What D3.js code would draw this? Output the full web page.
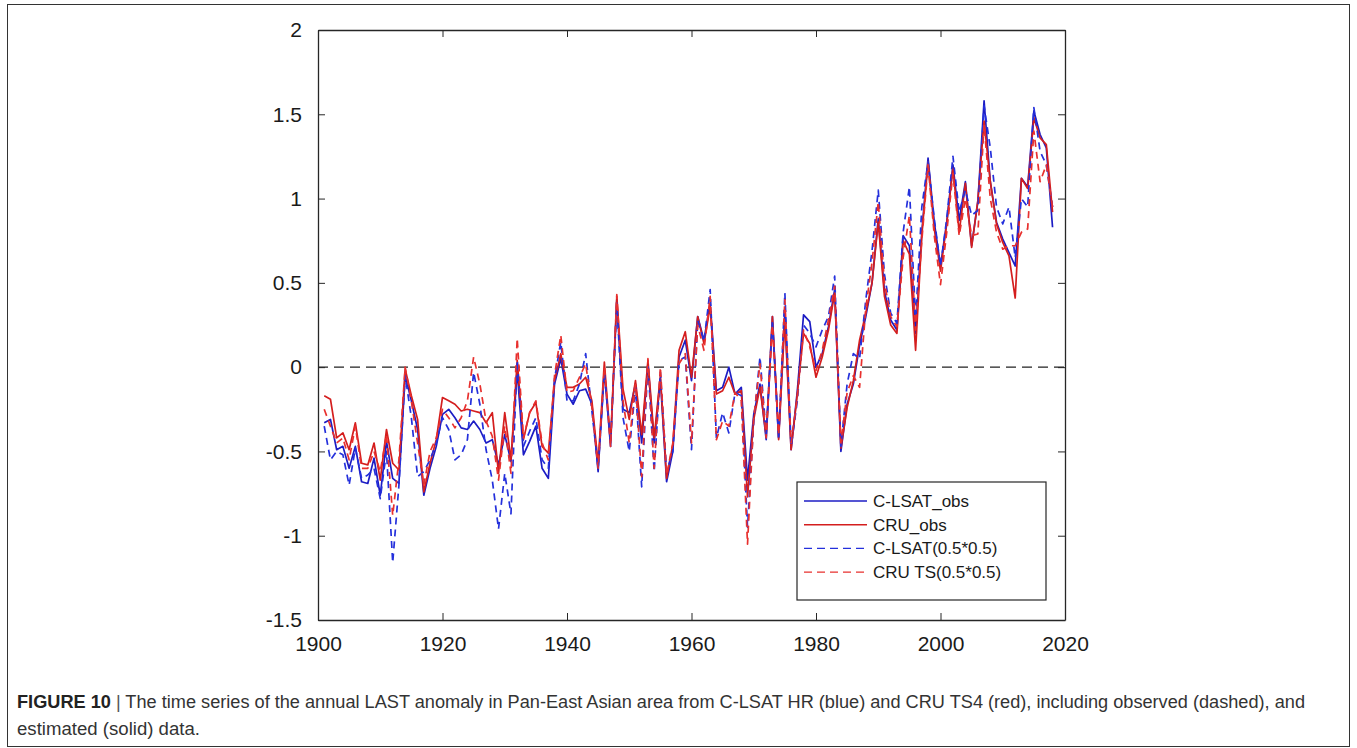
<!DOCTYPE html>
<html>
<head>
<meta charset="utf-8">
<script src="https://cdn.jsdelivr.net/npm/d3@7"></script>
<style>
  body { margin: 0; background: #fff; }
  svg { display: block; font-family: "Liberation Sans", Arial, Helvetica, sans-serif; }
</style>
</head>
<body>
<svg id="chart" width="1357" height="748"></svg>
<script>

var anios = d3.range(1901, 2019);

// C-LSAT_obs (azul continua)
var clsatObs = [
  -0.33, -0.31, -0.49, -0.47, -0.60, -0.47, -0.68, -0.69, -0.54, -0.76,
  -0.44, -0.66, -0.69, -0.05, -0.20, -0.37, -0.76, -0.60, -0.47, -0.28,
  -0.25, -0.30, -0.36, -0.37, -0.32, -0.37, -0.45, -0.43, -0.58, -0.40,
  -0.56, -0.02, -0.52, -0.44, -0.35, -0.60, -0.66, -0.10, 0.05, -0.16,
  -0.22, -0.14, -0.13, -0.22, -0.62, -0.02, -0.47, 0.40, -0.25, -0.27,
  -0.10, -0.45, 0.02, -0.45, -0.07, -0.68, -0.50, 0.06, 0.16, -0.08,
  0.30, 0.16, 0.38, -0.14, -0.12, 0.00, -0.16, -0.12, -0.67, -0.28,
  -0.10, -0.43, 0.30, -0.42, 0.33, -0.49, -0.14, 0.31, 0.27, 0.00,
  0.08, 0.24, 0.46, -0.50, -0.22, -0.10, 0.13, 0.30, 0.50, 0.88,
  0.45, 0.28, 0.22, 0.78, 0.72, 0.20, 0.80, 1.24, 0.86, 0.60,
  0.86, 1.20, 0.87, 1.10, 0.72, 0.98, 1.58, 1.10, 0.86, 0.76,
  0.68, 0.60, 1.12, 1.07, 1.52, 1.38, 1.30, 0.83
];

// CRU_obs (roja continua)
var cruObs = [
  -0.17, -0.19, -0.42, -0.39, -0.49, -0.33, -0.57, -0.58, -0.45, -0.67,
  -0.37, -0.57, -0.61, -0.01, -0.17, -0.31, -0.74, -0.57, -0.43, -0.18,
  -0.20, -0.22, -0.26, -0.25, -0.26, -0.27, -0.33, -0.27, -0.63, -0.27,
  -0.55, 0.04, -0.43, -0.27, -0.21, -0.47, -0.51, -0.08, 0.08, -0.12,
  -0.12, -0.10, -0.06, -0.20, -0.57, 0.03, -0.45, 0.42, -0.13, -0.31,
  -0.08, -0.40, 0.04, -0.42, -0.05, -0.66, -0.46, 0.10, 0.21, -0.06,
  0.30, 0.14, 0.36, -0.16, -0.14, -0.06, -0.16, -0.14, -0.77, -0.31,
  -0.12, -0.41, 0.30, -0.43, 0.28, -0.49, -0.16, 0.20, 0.14, -0.06,
  0.06, 0.22, 0.44, -0.48, -0.24, -0.08, 0.16, 0.32, 0.50, 0.86,
  0.42, 0.25, 0.20, 0.75, 0.67, 0.10, 0.78, 1.22, 0.82, 0.57,
  0.85, 1.18, 0.80, 1.09, 0.71, 0.99, 1.46, 1.10, 0.85, 0.74,
  0.66, 0.41, 1.12, 1.06, 1.48, 1.36, 1.32, 0.92
];

// C-LSAT(0.5*0.5) (azul discontinua)
var clsatMalla = [
  -0.35, -0.55, -0.50, -0.52, -0.70, -0.48, -0.66, -0.64, -0.60, -0.78,
  -0.50, -1.16, -0.70, -0.05, -0.30, -0.65, -0.62, -0.55, -0.45, -0.30,
  -0.37, -0.55, -0.52, -0.43, -0.03, -0.22, -0.49, -0.67, -0.96, -0.63,
  -0.87, 0.04, -0.47, -0.38, -0.30, -0.55, -0.60, -0.07, 0.15, -0.20,
  -0.20, -0.10, 0.08, -0.26, -0.60, -0.03, -0.45, 0.38, -0.30, -0.50,
  -0.12, -0.71, 0.02, -0.62, -0.03, -0.62, -0.50, 0.04, 0.06, -0.49,
  0.28, 0.15, 0.46, -0.42, -0.27, -0.39, -0.15, -0.17, -0.95, -0.32,
  0.06, -0.40, 0.28, -0.43, 0.44, -0.47, -0.20, 0.25, 0.20, 0.12,
  0.22, 0.30, 0.54, -0.47, -0.10, 0.08, 0.05, 0.40, 0.69, 1.05,
  0.55, 0.32, 0.26, 0.80, 1.07, 0.28, 0.95, 1.22, 0.88, 0.60,
  0.88, 1.25, 0.92, 1.05, 0.90, 0.93, 1.55, 1.30, 0.95, 0.85,
  0.95, 0.65, 1.00, 0.95, 1.54, 1.28, 1.20, 0.95
];

// CRU TS(0.5*0.5) (roja discontinua)
var cruMalla = [
  -0.25, -0.35, -0.45, -0.42, -0.55, -0.35, -0.60, -0.60, -0.50, -0.62,
  -0.40, -0.88, -0.55, 0.00, -0.20, -0.45, -0.70, -0.50, -0.42, -0.25,
  -0.30, -0.36, -0.30, -0.20, 0.06, -0.10, -0.32, -0.41, -0.67, -0.35,
  -0.63, 0.17, -0.42, -0.27, -0.20, -0.45, -0.55, -0.05, 0.19, -0.15,
  -0.14, -0.06, 0.02, -0.24, -0.60, 0.00, -0.47, 0.43, -0.20, -0.45,
  -0.10, -0.65, 0.05, -0.60, 0.00, -0.64, -0.45, 0.02, 0.08, -0.45,
  0.25, 0.10, 0.42, -0.43, -0.32, -0.35, -0.15, -0.20, -1.05, -0.30,
  0.02, -0.42, 0.25, -0.40, 0.40, -0.45, -0.18, 0.22, 0.12, -0.02,
  0.10, 0.28, 0.48, -0.45, -0.15, -0.05, -0.12, 0.35, 0.62, 0.98,
  0.50, 0.30, 0.24, 0.65, 0.90, 0.22, 0.75, 1.20, 0.78, 0.49,
  0.80, 1.15, 0.78, 1.00, 0.78, 0.79, 1.44, 1.00, 0.80, 0.70,
  0.72, 0.72, 0.80, 0.82, 1.40, 1.10, 1.20, 0.95
];

var ticksX = [1900, 1920, 1940, 1960, 1980, 2000, 2020];
var ticksY = [-1.5, -1, -0.5, 0, 0.5, 1, 1.5, 2];

var series = [
  { nombre: 'C-LSAT_obs', valores: clsatObs, color: '#1c1cc4', dash: null },
  { nombre: 'CRU_obs', valores: cruObs, color: '#d41e1e', dash: null },
  { nombre: 'C-LSAT(0.5*0.5)', valores: clsatMalla, color: '#2430dc', dash: '7,5' },
  { nombre: 'CRU TS(0.5*0.5)', valores: cruMalla, color: '#e8302e', dash: '7,5' }
];

var svg = d3.select('#chart');
var margen = { left: 318, right: 1065, top: 30, bottom: 620 };
var colorEje = '#262626';

var x = d3.scaleLinear().domain([1900, 2020]).range([margen.left, margen.right]);
var y = d3.scaleLinear().domain([-1.5, 2]).range([margen.bottom, margen.top]);

// marco de la figura
svg.append('rect')
  .attr('x', 7.5).attr('y', 4.5)
  .attr('width', 1342).attr('height', 742)
  .attr('fill', 'none').attr('stroke', '#333').attr('stroke-width', 1);

function dibujarEjes(){

  var ejeX = svg.append('g')
    .attr('transform', 'translate(0,' + margen.bottom + ')')
    .call(d3.axisBottom(x).tickValues(ticksX).tickSizeInner(-7).tickSizeOuter(0).tickPadding(16).tickFormat(d3.format('d')));

  var ejeXsup = svg.append('g')
    .attr('transform', 'translate(0,' + margen.top + ')')
    .call(d3.axisTop(x).tickValues(ticksX).tickSizeInner(-7).tickSizeOuter(0).tickFormat(''));

  var ejeY = svg.append('g')
    .attr('transform', 'translate(' + margen.left + ',0)')
    .call(d3.axisLeft(y).tickValues(ticksY).tickSizeInner(-7).tickSizeOuter(0).tickPadding(16).tickFormat(function(d){ return d; }));

  var ejeYder = svg.append('g')
    .attr('transform', 'translate(' + margen.right + ',0)')
    .call(d3.axisRight(y).tickValues(ticksY).tickSizeInner(-7).tickSizeOuter(0).tickFormat(''));

  [ejeX, ejeXsup, ejeY, ejeYder].forEach(function(g){
    g.selectAll('path').attr('stroke', colorEje).attr('stroke-width', 1.3);
    g.selectAll('line').attr('stroke', colorEje).attr('stroke-width', 1);
    g.selectAll('text').attr('fill', '#1a1a1a').attr('font-size', 21)
      .attr('font-family', '"Liberation Sans", Arial, sans-serif');
  });
}

function dibujarSeries(){

  // linea de cero
  svg.append('line')
    .attr('x1', x(1900)).attr('x2', x(2020))
    .attr('y1', y(0)).attr('y2', y(0))
    .attr('stroke', '#222').attr('stroke-width', 1.2)
    .attr('stroke-dasharray', '10,6');

  var linea = d3.line()
    .x(function(d){ return x(d.anio); })
    .y(function(d){ return y(d.valor); });

  svg.selectAll('path.serie').data(series).enter().append('path')
    .attr('class', 'serie')
    .attr('fill', 'none')
    .attr('stroke', function(d){ return d.color; })
    .attr('stroke-width', 1.7)
    .attr('stroke-dasharray', function(d){ return d.dash; })
    .attr('stroke-linejoin', 'round')
    .attr('d', function(d){
      return linea(d.valores.map(function(v, i){ return { anio: anios[i], valor: v }; }));
    });
}

function dibujarLeyenda(){

  var ley = svg.append('g').attr('transform', 'translate(797,482)');

  ley.append('rect')
    .attr('width', 249).attr('height', 118)
    .attr('fill', '#fff').attr('stroke', colorEje).attr('stroke-width', 1.2);

  ley.selectAll('g').data(series).enter().append('g')
    .each(function(d){

      var g = d3.select(this);

      g.append('line')
        .attr('x1', 7).attr('x2', 70)
        .attr('stroke', d.color).attr('stroke-width', 1.4)
        .attr('stroke-dasharray', d.dash ? '8,5' : null);

      g.append('text')
        .attr('x', 76).attr('y', 6)
        .attr('font-size', 17).attr('fill', '#1a1a1a')
        .text(d.nombre);
    })
    .attr('transform', function(d, i){
      return 'translate(0,' + (19 + i * 23.7) + ')';
    });
}

function dibujarPie(){

  var pie = svg.append('text')
    .attr('x', 17).attr('y', 708)
    .attr('font-size', 17.5).attr('fill', '#333')
    .attr('textLength', 1288).attr('lengthAdjust', 'spacingAndGlyphs');

  pie.append('tspan').attr('font-weight', 'bold').attr('fill', '#222').text('FIGURE 10');
  pie.append('tspan').attr('fill', '#555').text(' | ');
  pie.append('tspan').text('The time series of the annual LAST anomaly in Pan-East Asian area from C-LSAT HR (blue) and CRU TS4 (red), including observed (dashed), and');

  svg.append('text')
    .attr('x', 17).attr('y', 735)
    .attr('font-size', 17.5).attr('fill', '#333')
    .attr('textLength', 183).attr('lengthAdjust', 'spacingAndGlyphs')
    .text('estimated (solid) data.');
}

dibujarSeries();
dibujarEjes();
dibujarLeyenda();
dibujarPie();

</script>
</body>
</html>
